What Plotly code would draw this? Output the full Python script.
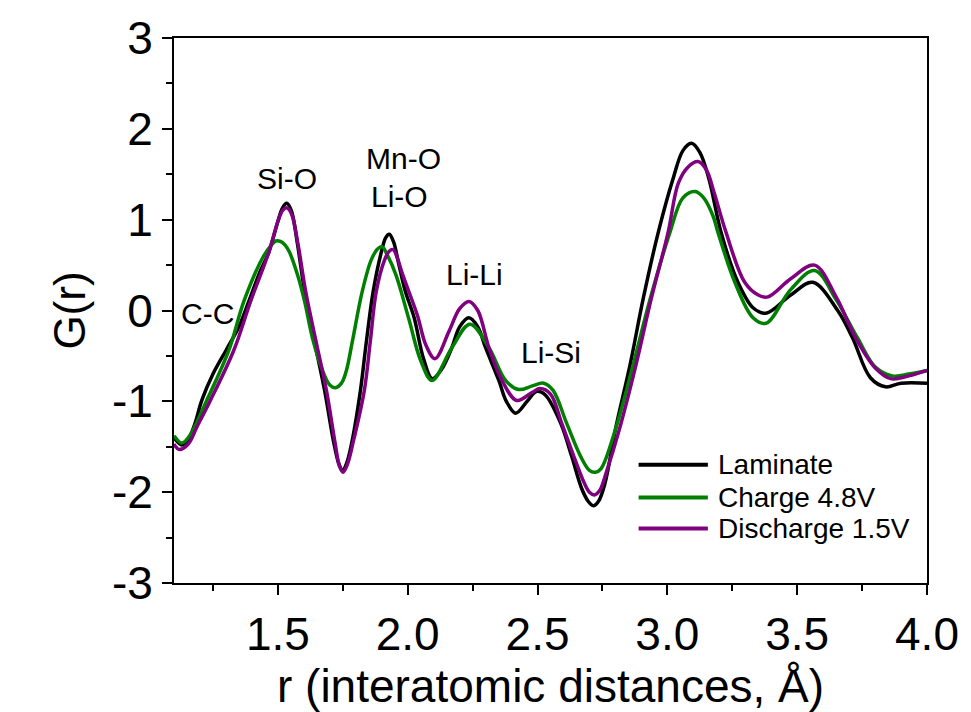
import plotly.graph_objects as go

# ---- data (r in Å, G(r)) ----
lam_r = [1.10, 1.13, 1.155, 1.18, 1.207, 1.25, 1.30, 1.35, 1.388, 1.43, 1.465, 1.50, 1.518, 1.534,
         1.552, 1.575, 1.603, 1.641, 1.68, 1.715, 1.735, 1.749, 1.765, 1.785, 1.818, 1.841, 1.867,
         1.90, 1.915, 1.929, 1.945, 1.965, 1.99, 2.025, 2.06, 2.094, 2.13, 2.17, 2.20, 2.236, 2.27,
         2.30, 2.351, 2.38, 2.416, 2.46, 2.497, 2.53, 2.589, 2.631, 2.67, 2.695, 2.715, 2.735, 2.76,
         2.80, 2.857, 2.907, 2.965, 3.022, 3.06, 3.093, 3.125, 3.16, 3.207, 3.272, 3.33, 3.38,
         3.475, 3.56, 3.656, 3.713, 3.782, 3.84, 3.90, 4.00]
lam_g = [-1.40, -1.48, -1.42, -1.25, -0.99, -0.70, -0.44, -0.18, 0.10, 0.42, 0.64, 0.98, 1.13, 1.18,
         1.10, 0.74, 0.21, -0.34, -0.88, -1.45, -1.69, -1.76, -1.68, -1.45, -0.88, -0.34, 0.21,
         0.66, 0.80, 0.84, 0.76, 0.52, 0.22, -0.08, -0.52, -0.75, -0.65, -0.41, -0.18, -0.08, -0.18,
         -0.41, -0.77, -1.00, -1.13, -1.00, -0.89, -0.93, -1.24, -1.60, -1.96, -2.10, -2.15, -2.10, -1.90,
         -1.31, -0.59, 0.13, 0.86, 1.45, 1.76, 1.84, 1.74, 1.45, 0.86, 0.31, 0.03, -0.03,
         0.17, 0.31, 0.00, -0.30, -0.74, -0.84, -0.80, -0.80]

chg_r = [1.10, 1.13, 1.16, 1.226, 1.311, 1.369, 1.445, 1.475, 1.492, 1.51, 1.528, 1.545, 1.576,
         1.603, 1.633, 1.672, 1.70, 1.722, 1.745, 1.764, 1.787, 1.825, 1.86, 1.885, 1.902, 1.92,
         1.955, 2.005, 2.05, 2.094, 2.17, 2.24, 2.313, 2.377, 2.428, 2.48, 2.524, 2.56, 2.612,
         2.665, 2.70, 2.723, 2.745, 2.80, 2.869, 2.934, 3.01, 3.06, 3.107, 3.14, 3.176, 3.195,
         3.26, 3.33, 3.38, 3.475, 3.567, 3.65, 3.732, 3.80, 3.867, 3.93, 4.00]
chg_g = [-1.38, -1.46, -1.38, -0.99, -0.44, 0.10, 0.60, 0.72, 0.765, 0.76, 0.72, 0.64, 0.39,
         0.10, -0.30, -0.66, -0.82, -0.85, -0.80, -0.66, -0.34, 0.21, 0.56, 0.68, 0.70, 0.62,
         0.39, -0.10, -0.55, -0.77, -0.41, -0.15, -0.41, -0.77, -0.87, -0.83, -0.80, -0.88, -1.24,
         -1.60, -1.76, -1.78, -1.74, -1.31, -0.59, 0.13, 0.86, 1.24, 1.31, 1.24, 1.04, 0.86,
         0.31, -0.08, -0.14, 0.23, 0.44, 0.12, -0.30, -0.62, -0.72, -0.70, -0.66]

dis_r = [1.10, 1.12, 1.155, 1.19, 1.24, 1.33, 1.395, 1.465, 1.50, 1.518, 1.535, 1.553, 1.577, 1.607,
         1.647, 1.687, 1.72, 1.737, 1.751, 1.767, 1.79, 1.833, 1.856, 1.879, 1.91, 1.928, 1.944,
         1.96, 1.98, 2.037, 2.07, 2.105, 2.159, 2.20, 2.236, 2.27, 2.313, 2.363, 2.42, 2.48, 2.51,
         2.55, 2.593, 2.639, 2.68, 2.70, 2.72, 2.74, 2.765, 2.815, 2.88, 2.938, 3.003, 3.042, 3.08,
         3.118, 3.15, 3.18, 3.226, 3.298, 3.35, 3.387, 3.475, 3.567, 3.65, 3.725, 3.80, 3.86, 3.93,
         4.00]
dis_g = [-1.47, -1.53, -1.47, -1.27, -0.99, -0.44, 0.10, 0.64, 0.98, 1.10, 1.13, 1.06, 0.74, 0.21,
         -0.34, -0.88, -1.45, -1.71, -1.78, -1.70, -1.45, -0.88, -0.34, 0.21, 0.55, 0.65, 0.67,
         0.58, 0.40, -0.05, -0.38, -0.53, -0.23, 0.02, 0.10, 0.00, -0.41, -0.77, -0.99, -0.90, -0.86,
         -0.92, -1.24, -1.60, -1.90, -2.00, -2.03, -1.98, -1.78, -1.31, -0.59, 0.13, 0.86, 1.40, 1.58,
         1.64, 1.55, 1.30, 0.86, 0.31, 0.17, 0.15, 0.35, 0.50, 0.15, -0.30, -0.63, -0.75, -0.72,
         -0.66]

series_names = ["Laminate", "Charge 4.8V", "Discharge 1.5V"]
series_colors = ["#000000", "#008000", "#800080"]

peak_labels = ["C-C", "Si-O", "Mn-O", "Li-O", "Li-Li", "Li-Si"]
peak_r = [1.23, 1.537, 1.983, 1.967, 2.259, 2.55]
peak_g = [-0.03, 1.45, 1.67, 1.26, 0.40, -0.46]

x_ticks = [1.5, 2.0, 2.5, 3.0, 3.5, 4.0]
y_ticks = [-3, -2, -1, 0, 1, 2, 3]

FONT = "Liberation Sans, Arial, sans-serif"

fig = go.Figure()
for r, g, name, col in zip([lam_r, chg_r, dis_r], [lam_g, chg_g, dis_g], series_names, series_colors):
    fig.add_trace(go.Scatter(x=r, y=g, mode="lines", name=name,
                             line=dict(color=col, width=3.5, shape="spline", smoothing=1.0),
                             showlegend=False))

for t, x, y in zip(peak_labels, peak_r, peak_g):
    fig.add_annotation(x=x, y=y, text=t, showarrow=False, xanchor="center", yanchor="middle",
                       font=dict(family=FONT, size=30, color="black"))

# manual legend (long line samples like the reference)
leg_y = [0.217, 0.157, 0.100]
for name, col, yy in zip(series_names, series_colors, leg_y):
    fig.add_shape(type="line", xref="paper", yref="paper", x0=0.617, x1=0.709, y0=yy, y1=yy,
                  line=dict(color=col, width=4))
    fig.add_annotation(xref="paper", yref="paper", x=0.72, y=yy, text=name, showarrow=False,
                       xanchor="left", yanchor="middle",
                       font=dict(family=FONT, size=28, color="black"))

fig.update_layout(
    width=971, height=712,
    margin=dict(l=174, r=42, t=32, b=127),
    paper_bgcolor="white", plot_bgcolor="white",
    font=dict(family=FONT, color="black"),
)
fig.update_xaxes(range=[1.1, 4.0], tickvals=x_ticks, ticktext=[f"{v:.1f}" for v in x_ticks],
                 ticks="outside", ticklen=10, tickwidth=2, tickcolor="black",
                 minor=dict(dtick=0.25, tick0=1.0, ticks="outside", ticklen=6, tickwidth=2, tickcolor="black"),
                 showline=True, linewidth=2, linecolor="black", mirror=True,
                 showgrid=False, zeroline=False,
                 tickfont=dict(family=FONT, size=46),
                 title=dict(text="r (interatomic distances, Å)", font=dict(family=FONT, size=46), standoff=8))
fig.update_yaxes(range=[-3, 3], tickvals=y_ticks, ticktext=[str(v) for v in y_ticks],
                 ticks="outside", ticklen=10, tickwidth=2, tickcolor="black",
                 minor=dict(dtick=0.5, tick0=0, ticks="outside", ticklen=6, tickwidth=2, tickcolor="black"),
                 showline=True, linewidth=2, linecolor="black", mirror=True,
                 showgrid=False, zeroline=False,
                 tickfont=dict(family=FONT, size=46),
                 title=dict(text="G(r)", font=dict(family=FONT, size=44), standoff=12))

fig.write_html("out.html")
